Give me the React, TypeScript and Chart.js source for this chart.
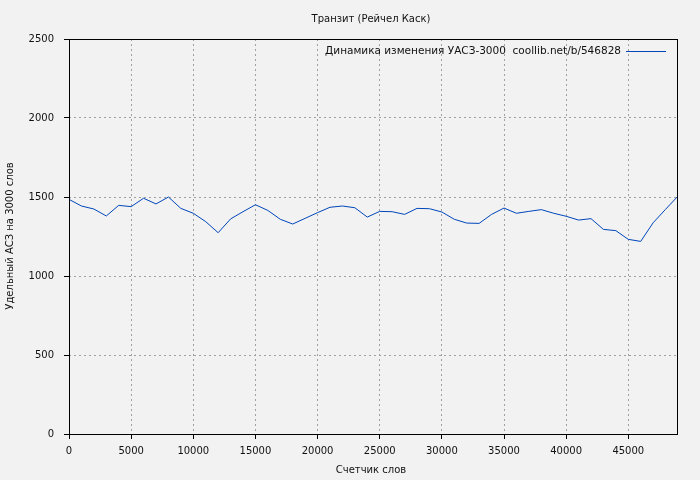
import React, { useEffect, useRef } from "react";
import { Chart, registerables } from "chart.js";

Chart.register(...registerables);

const TITLE = "Транзит (Рейчел Каск)";
const X_TITLE = "Счетчик слов";
const Y_TITLE = "Удельный АСЗ на 3000 слов";
const LEGEND_LABEL = "Динамика изменения УАСЗ-3000  coollib.net/b/546828";

const wordCounts = [
  0, 1000, 2000, 3000, 4000, 5000, 6000, 7000, 8000, 9000,
  10000, 11000, 12000, 13000, 14000, 15000, 16000, 17000, 18000, 19000,
  20000, 21000, 22000, 23000, 24000, 25000, 26000, 27000, 28000, 29000,
  30000, 31000, 32000, 33000, 34000, 35000, 36000, 37000, 38000, 39000,
  40000, 41000, 42000, 43000, 44000, 45000, 46000, 47000, 48000, 49000,
];
const values = [
  1485, 1443, 1424, 1380, 1447, 1439, 1492, 1456, 1500, 1428,
  1397, 1344, 1274, 1361, 1407, 1451, 1415, 1359, 1329, 1365,
  1401, 1435, 1443, 1432, 1373, 1409, 1407, 1390, 1428, 1426,
  1405, 1359, 1335, 1333, 1390, 1430, 1397, 1409, 1420, 1397,
  1378, 1354, 1363, 1295, 1287, 1232, 1219, 1337, 1422, 1506,
];
const xTicks = [0, 5000, 10000, 15000, 20000, 25000, 30000, 35000, 40000, 45000];
const yTicks = [0, 500, 1000, 1500, 2000, 2500];

const FONT = "DejaVu Sans";
const LINE_COLOR = "#0046bb";

const decorPlugin = {
  id: "decor",
  beforeDraw(chart: any) {
    const ctx = chart.ctx;
    ctx.save();
    ctx.fillStyle = "#f2f2f2";
    ctx.fillRect(0, 0, chart.width, chart.height);
    ctx.restore();
  },
  afterDraw(chart: any) {
    const ctx = chart.ctx;
    const a = chart.chartArea;
    ctx.save();
    // box
    ctx.strokeStyle = "#000";
    ctx.lineWidth = 1;
    ctx.setLineDash([]);
    ctx.strokeRect(a.left + 0.5, a.top + 0.5, a.right - a.left - 1, a.bottom - a.top);
    ctx.fillStyle = "#111";
    ctx.font = `10px "${FONT}"`;
    ctx.textBaseline = "middle";
    // title
    ctx.textAlign = "center";
    ctx.fillText(TITLE, 371, 19);
    // x title
    ctx.fillText(X_TITLE, 371, 470);
    // y title
    ctx.save();
    ctx.translate(10, 236);
    ctx.rotate(-Math.PI / 2);
    ctx.fillText(Y_TITLE, 0, 0);
    ctx.restore();
    // legend
    ctx.font = `10.5px "${FONT}"`;
    ctx.textAlign = "right";
    ctx.fillText(LEGEND_LABEL, 621, 51);
    ctx.strokeStyle = LINE_COLOR;
    ctx.beginPath();
    ctx.moveTo(626, 51.5);
    ctx.lineTo(666, 51.5);
    ctx.stroke();
    ctx.restore();
  },
};

export default function App() {
  const ref = useRef<HTMLCanvasElement | null>(null);
  useEffect(() => {
    document.body.style.margin = "0";
    const canvas = ref.current;
    if (!canvas) return;
    const chart = new Chart(canvas, {
      type: "line",
      data: {
        datasets: [
          {
            label: LEGEND_LABEL,
            data: wordCounts.map((x, i) => ({ x, y: values[i] })),
            borderColor: LINE_COLOR,
            borderWidth: 1,
            pointRadius: 0,
            tension: 0,
            fill: false,
          },
        ],
      },
      options: {
        responsive: false,
        animation: false,
        layout: { padding: { left: 0, top: 39, right: 22, bottom: 0 } },
        plugins: {
          legend: { display: false },
          title: { display: false },
          tooltip: { enabled: false },
        },
        scales: {
          x: {
            type: "linear",
            min: 0,
            max: 49000,
            afterFit: (s: any) => {
              s.height = 46;
            },
            afterBuildTicks: (s: any) => {
              s.ticks = xTicks.map((v) => ({ value: v }));
            },
            ticks: {
              font: { family: FONT, size: 10 },
              color: "#111",
              padding: 6,
              maxRotation: 0,
              autoSkip: false,
              callback: (v: any) => String(v),
            },
            grid: {
              color: "#a0a0a0",
              lineWidth: 1,
              tickLength: 5,
              tickColor: "#000",
              tickBorderDash: [],
            },
            border: { display: false, dash: [2, 3] },
          },
          y: {
            type: "linear",
            min: 0,
            max: 2500,
            afterFit: (s: any) => {
              s.width = 69;
            },
            afterBuildTicks: (s: any) => {
              s.ticks = yTicks.map((v) => ({ value: v }));
            },
            ticks: {
              font: { family: FONT, size: 10 },
              color: "#111",
              padding: 10,
              autoSkip: false,
              callback: (v: any) => String(v),
            },
            grid: {
              color: "#a0a0a0",
              lineWidth: 1,
              tickLength: 5,
              tickColor: "#000",
              tickBorderDash: [],
            },
            border: { display: false, dash: [2, 3] },
          },
        },
      },
      plugins: [decorPlugin],
    });
    return () => chart.destroy();
  }, []);
  return (
    <div style={{ width: 700, height: 480 }}>
      <canvas ref={ref} width={700} height={480} style={{ display: "block" }} />
    </div>
  );
}
